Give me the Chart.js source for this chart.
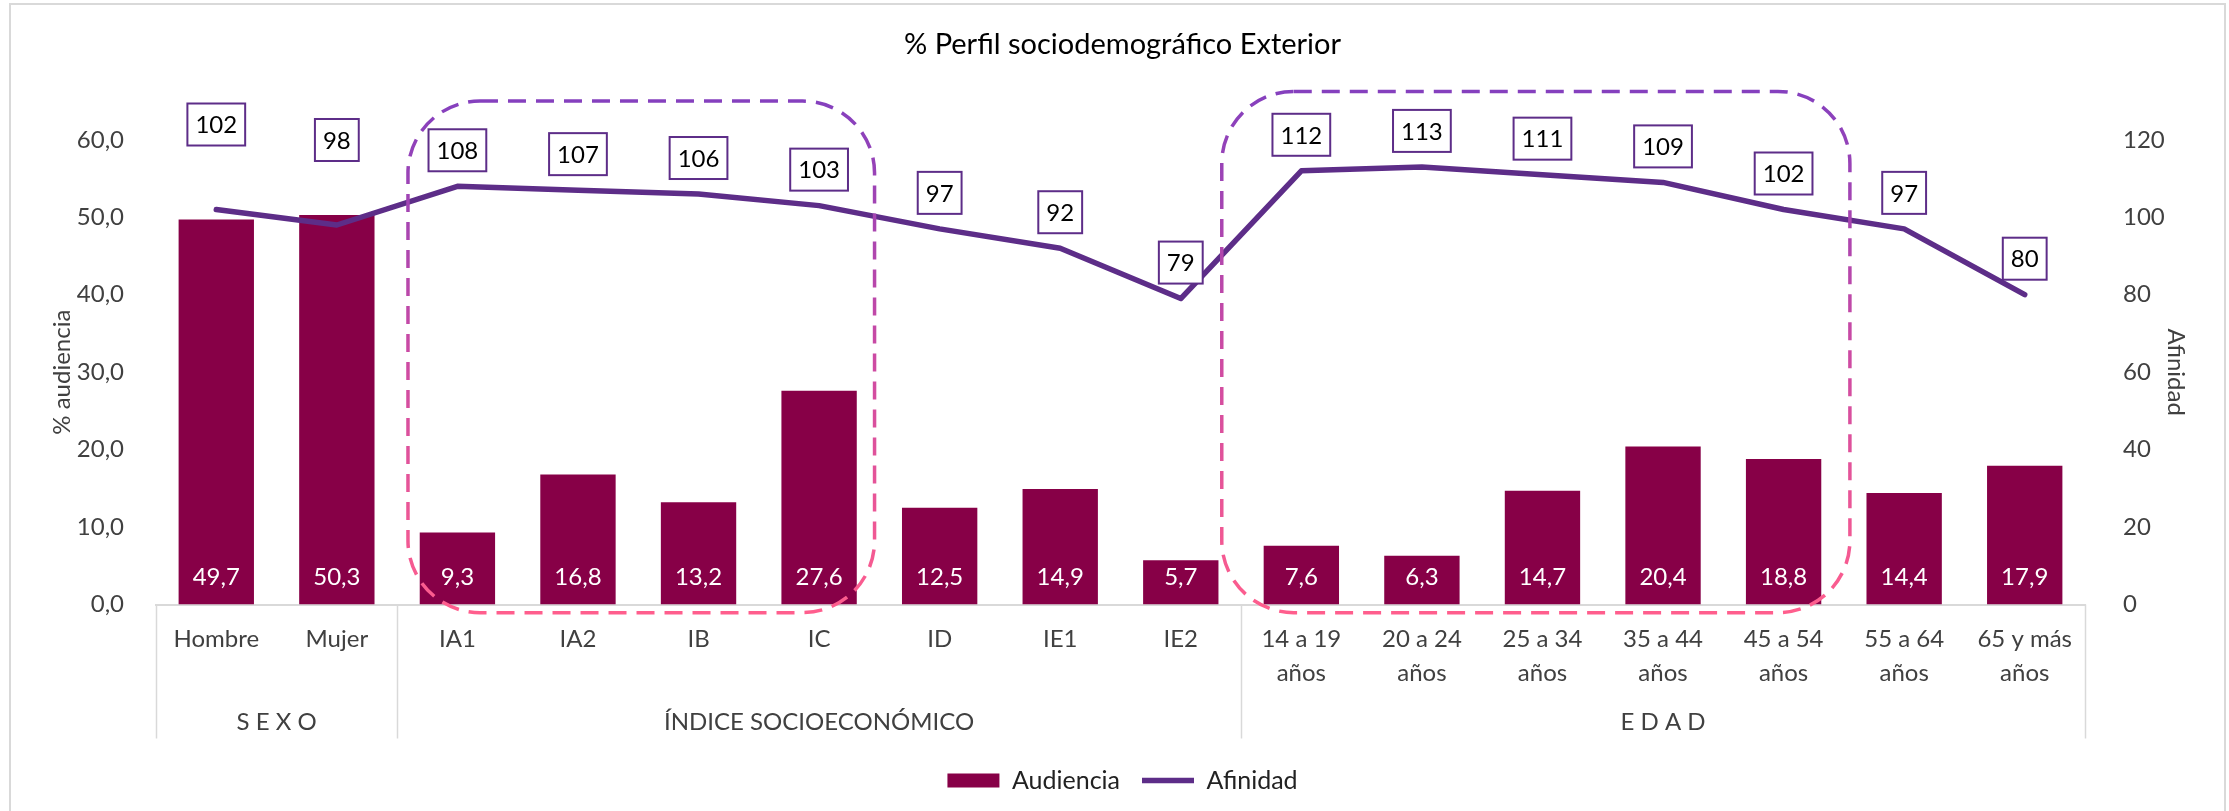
<!DOCTYPE html>
<html lang="es">
<head>
<meta charset="utf-8">
<title>% Perfil sociodemográfico Exterior</title>
<script src="https://cdn.jsdelivr.net/npm/chart.js@4.4.1/dist/chart.umd.min.js"></script>
<style>
  html, body { margin: 0; padding: 0; background: #fff; }
  #wrap { position: relative; width: 2229px; height: 811px; }
</style>
</head>
<body>
<div id="wrap"><canvas id="perfil"></canvas></div>
<script>
// categorías del eje X (dos líneas cuando hace falta)
const CATEGORIAS = [
  ['Hombre'], ['Mujer'],
  ['IA1'], ['IA2'], ['IB'], ['IC'], ['ID'], ['IE1'], ['IE2'],
  ['14 a 19', 'años'], ['20 a 24', 'años'], ['25 a 34', 'años'], ['35 a 44', 'años'],
  ['45 a 54', 'años'], ['55 a 64', 'años'], ['65 y más', 'años'],
];
const GRUPOS = ['S E X O', 'ÍNDICE SOCIOECONÓMICO', 'E D A D'];
const GRUPO_N = [2, 7, 7];

const AUDIENCIA = [49.7, 50.3, 9.3, 16.8, 13.2, 27.6, 12.5, 14.9, 5.7, 7.6, 6.3, 14.7, 20.4, 18.8, 14.4, 17.9];
const AFINIDAD = [102, 98, 108, 107, 106, 103, 97, 92, 79, 112, 113, 111, 109, 102, 97, 80];

const TICKS_AUDIENCIA = [0, 10, 20, 30, 40, 50, 60];
const TICKS_AFINIDAD = [0, 20, 40, 60, 80, 100, 120];

const VINO = '#870047';
const MORADO = '#5d2d88';
const GRIS = '#d9d9d9';
const FUENTE = 'Lato, "Open Sans", sans-serif';
const TAM = 24;

Chart.defaults.font.family = FUENTE;
Chart.defaults.color = '#404040';

const fmt = (v) => v.toFixed(1).replace('.', ',');

// marco exterior del gráfico
const marco = {
  id: 'marco',
  beforeDraw(chart) {
    const { ctx } = chart;
    ctx.save();
    ctx.strokeStyle = GRIS;
    ctx.lineWidth = 2;
    ctx.strokeRect(10, 4, chart.width - 14, chart.height + 20);
    ctx.restore();
  },
};

// segundo nivel del eje X: separadores y nombres de grupo
const grupos = {
  id: 'grupos',
  afterDraw(chart) {
    const { ctx } = chart;
    const x = chart.scales.x;
    const w = (x.right - x.left) / CATEGORIAS.length;
    const y0 = x.top;
    const y1 = y0 + 134;
    ctx.save();
    ctx.strokeStyle = GRIS;
    ctx.lineWidth = 1.5;
    let i0 = 0;
    const bordes = [0];
    GRUPO_N.forEach((n) => { i0 += n; bordes.push(i0); });
    bordes.forEach((b) => {
      const px = Math.round(x.left + b * w) + 0.5;
      ctx.beginPath();
      ctx.moveTo(px, y0);
      ctx.lineTo(px, y1);
      ctx.stroke();
    });
    ctx.fillStyle = '#404040';
    ctx.font = TAM + 'px ' + FUENTE;
    ctx.textAlign = 'center';
    ctx.textBaseline = 'middle';
    GRUPOS.forEach((g, k) => {
      const cx = x.left + (bordes[k] + bordes[k + 1]) / 2 * w;
      ctx.fillText(g, cx, y0 + 118);
    });
    ctx.restore();
  },
};

// recuadros punteados, valores de barras y etiquetas de afinidad
const anotaciones = {
  id: 'anotaciones',
  afterDatasetsDraw(chart) {
    const { ctx } = chart;
    const x = chart.scales.x;
    const yA = chart.scales.y1;
    const w = (x.right - x.left) / CATEGORIAS.length;
    const cx = (i) => x.getPixelForValue(i);

    // valores de audiencia dentro de la barra
    const barras = chart.getDatasetMeta(0).data;
    ctx.save();
    ctx.fillStyle = '#fff';
    ctx.font = TAM + 'px ' + FUENTE;
    ctx.textAlign = 'center';
    ctx.textBaseline = 'middle';
    barras.forEach((b, i) => ctx.fillText(fmt(AUDIENCIA[i]), b.x, b.base - 27));
    ctx.restore();

    // recuadros de NSE alto y de edades centrales
    const cajas = [
      { l: cx(2) - 0.41 * w, r: cx(5) + 0.46 * w, t: yA.getPixelForValue(130), b: yA.getPixelForValue(-2.1) },
      { l: cx(9) - 0.66 * w, r: cx(13) + 0.55 * w, t: yA.getPixelForValue(132.5), b: yA.getPixelForValue(-2.1) },
    ];
    ctx.save();
    ctx.lineWidth = 3.5;
    ctx.setLineDash([18, 10]);
    cajas.forEach((c) => {
      const g = ctx.createLinearGradient(0, c.t, 0, c.b);
      g.addColorStop(0, '#8540be');
      g.addColorStop(0.5, '#cc4aa3');
      g.addColorStop(1, '#ff5e8d');
      ctx.strokeStyle = g;
      ctx.beginPath();
      ctx.roundRect(c.l, c.t, c.r - c.l, c.b - c.t, 72);
      ctx.stroke();
    });
    ctx.restore();

    // etiquetas de afinidad en recuadro
    const puntos = chart.getDatasetMeta(1).data;
    ctx.save();
    ctx.font = TAM + 'px ' + FUENTE;
    ctx.textAlign = 'center';
    ctx.textBaseline = 'middle';
    puntos.forEach((p, i) => {
      const txt = String(AFINIDAD[i]);
      const ancho = ctx.measureText(txt).width + 16;
      const alto = 42;
      const cy = p.y - (i < 2 ? 85 : 36);
      ctx.fillStyle = '#fff';
      ctx.fillRect(p.x - ancho / 2, cy - alto / 2, ancho, alto);
      ctx.strokeStyle = MORADO;
      ctx.lineWidth = 2;
      ctx.strokeRect(p.x - ancho / 2, cy - alto / 2, ancho, alto);
      ctx.fillStyle = '#000';
      ctx.fillText(txt, p.x, cy + 1);
    });
    ctx.restore();
  },
};

new Chart(document.getElementById('perfil'), {
  type: 'bar',
  data: {
    labels: CATEGORIAS,
    datasets: [
      {
        type: 'bar',
        label: 'Audiencia',
        data: AUDIENCIA,
        backgroundColor: VINO,
        yAxisID: 'y',
        order: 1,
        barPercentage: 0.625,
        categoryPercentage: 1,
        pointStyle: 'rect',
      },
      {
        type: 'line',
        label: 'Afinidad',
        data: AFINIDAD,
        borderColor: MORADO,
        backgroundColor: MORADO,
        borderWidth: 5.5,
        borderCapStyle: 'round',
        borderJoinStyle: 'round',
        pointRadius: 0,
        pointStyle: 'line',
        tension: 0,
        yAxisID: 'y1',
        order: 0,
      },
    ],
  },
  options: {
    responsive: true,
    maintainAspectRatio: false,
    animation: false,
    layout: { padding: { left: 40, right: 24, top: 0, bottom: 8 } },
    plugins: {
      title: {
        display: true,
        text: '% Perfil sociodemográfico Exterior',
        color: '#000',
        font: { size: 29, weight: 'normal' },
        padding: { top: 27, bottom: 78 },
      },
      legend: {
        position: 'bottom',
        labels: {
          usePointStyle: true,
          pointStyleWidth: 52,
          boxHeight: 14,
          padding: 22,
          color: '#222',
          font: { size: 25 },
          sort: (a, b) => a.datasetIndex - b.datasetIndex,
        },
      },
      tooltip: { enabled: false },
    },
    scales: {
      x: {
        grid: { display: false },
        border: { display: true, color: GRIS, width: 2 },
        ticks: { font: { size: TAM, lineHeight: 34 / TAM }, padding: 10, maxRotation: 0, autoSkip: false },
        afterFit: (s) => { s.height = 141.5; },
      },
      y: {
        position: 'left',
        min: 0,
        max: 60,
        grid: { display: false },
        border: { display: false },
        afterBuildTicks: (s) => { s.ticks = TICKS_AUDIENCIA.map((v) => ({ value: v })); },
        ticks: { font: { size: TAM }, padding: 24, callback: (v) => fmt(v) },
        title: { display: true, text: '% audiencia', font: { size: TAM }, padding: { top: 8, bottom: 0 } },
        afterFit: (s) => { s.width = 116; },
      },
      y1: {
        position: 'right',
        min: 0,
        max: 120,
        grid: { display: false },
        border: { display: false },
        afterBuildTicks: (s) => { s.ticks = TICKS_AFINIDAD.map((v) => ({ value: v })); },
        ticks: { font: { size: TAM }, padding: 30 },
        title: { display: true, text: 'Afinidad', font: { size: TAM }, padding: { top: 15, bottom: 0 } },
        afterFit: (s) => { s.width = 120; },
      },
    },
  },
  plugins: [marco, grupos, anotaciones],
});
</script>
</body>
</html>
